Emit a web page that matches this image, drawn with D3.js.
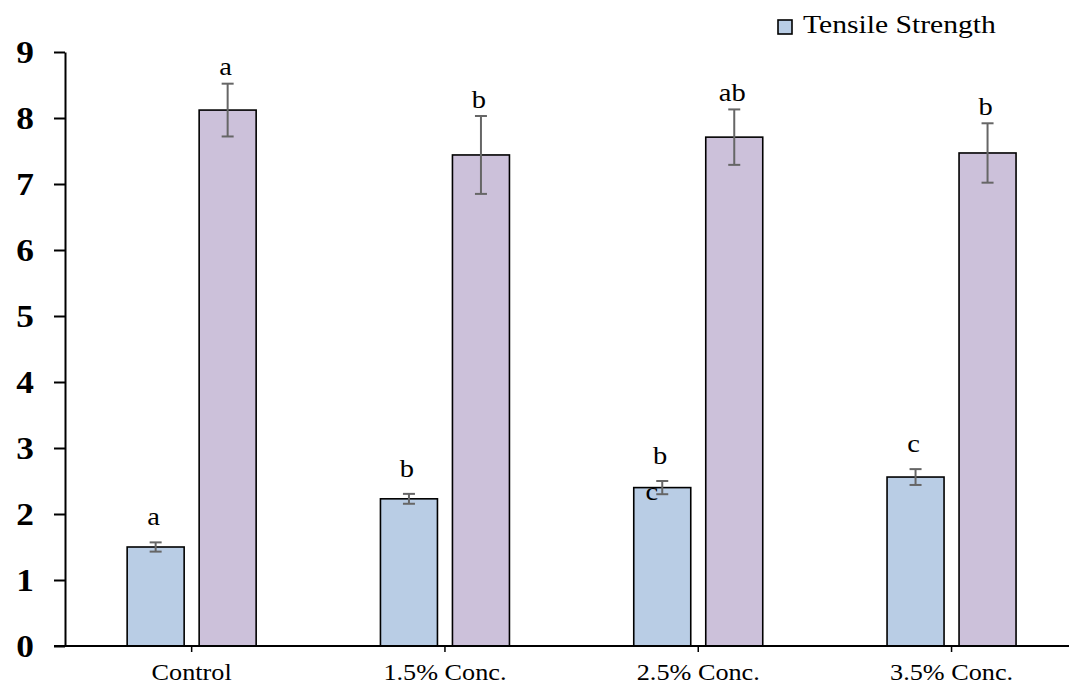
<!DOCTYPE html>
<html>
<head>
<meta charset="utf-8">
<script src="https://cdn.jsdelivr.net/npm/d3@7"></script>
<style>
  body { margin: 0; background: #fff; }
  svg { display: block; font-family: "Liberation Serif", "Times New Roman", serif; }
</style>
</head>
<body>
<div id="chart"></div>
<script>
// values
var categories = ["Control", "1.5% Conc.", "2.5% Conc.", "3.5% Conc."];
var seriesNames = ["Tensile Strength", "Elongation"];
var tensile = [1.50, 2.23, 2.40, 2.56];
var tensileErr = [0.07, 0.075, 0.10, 0.12];
var tensileLetters = ["a", "b", "b", "c"];
var second = [8.12, 7.44, 7.71, 7.47];
var secondErr = [0.40, 0.59, 0.42, 0.45];
var secondLetters = ["a", "b", "ab", "b"];
var yTicks = [0, 1, 2, 3, 4, 5, 6, 7, 8, 9];

var width = 1069, height = 684;
var blue = "#b9cde5", purple = "#ccc1da", errColor = "#666666";
var sx = 1.14; // text in the picture is a bit stretched horizontally

var svg = d3.select("#chart").append("svg")
    .attr("width", width)
    .attr("height", height);

var x0 = d3.scaleBand()
    .domain(categories)
    .range([65, 65 + 4 * 253.3])
    .padding(0);

var x1 = d3.scaleBand()
    .domain(seriesNames)
    .range([x0.bandwidth() / 2 - 64.5, x0.bandwidth() / 2 + 64.5])
    .paddingInner(15 / 72)
    .paddingOuter(0);

var y = d3.scaleLinear()
    .domain([0, 9])
    .range([646, 52]);

// build rows for drawing
var rows = [];
categories.forEach(function(c, i) {
    rows.push({cat: c, s: seriesNames[0], v: tensile[i], e: tensileErr[i], lab: tensileLetters[i], fill: blue, off: 17});
    rows.push({cat: c, s: seriesNames[1], v: second[i], e: secondErr[i], lab: secondLetters[i], fill: purple, off: 8.5});
});

function cx(d) { return x0(d.cat) + x1(d.s) + x1.bandwidth() / 2; }

// bars
svg.selectAll("rect.bar")
    .data(rows)
    .enter()
    .append("rect")
    .attr("class", "bar")
    .attr("x", function(d) { return x0(d.cat) + x1(d.s); })
    .attr("y", function(d) { return y(d.v); })
    .attr("width", x1.bandwidth())
    .attr("height", function(d) { return y(0) - y(d.v); })
    .style("fill", function(d) { return d.fill; })
    .style("stroke", "#000")
    .style("stroke-width", 1.6);

// error bars
var eb = svg.selectAll("g.err")
    .data(rows)
    .enter()
    .append("g")
    .attr("class", "err")
    .style("stroke", errColor)
    .style("stroke-width", 2);
eb.append("line")
    .attr("x1", cx).attr("x2", cx)
    .attr("y1", function(d) { return y(d.v + d.e); })
    .attr("y2", function(d) { return y(d.v - d.e); });
eb.append("line")
    .attr("x1", function(d) { return cx(d) - 6; }).attr("x2", function(d) { return cx(d) + 6; })
    .attr("y1", function(d) { return y(d.v + d.e); })
    .attr("y2", function(d) { return y(d.v + d.e); });
eb.append("line")
    .attr("x1", function(d) { return cx(d) - 6; }).attr("x2", function(d) { return cx(d) + 6; })
    .attr("y1", function(d) { return y(d.v - d.e); })
    .attr("y2", function(d) { return y(d.v - d.e); });

// significance letters
svg.selectAll("text.letter")
    .data(rows)
    .enter()
    .append("text")
    .attr("class", "letter")
    .attr("text-anchor", "middle")
    .attr("transform", function(d) {
        return "translate(" + (cx(d) - 2) + "," + (y(d.v + d.e) - d.off) + ") scale(" + sx + ",1)";
    })
    .style("font-size", "25px")
    .text(function(d) { return d.lab; });

// the stray "c" sitting on the 2.5% tensile bar
var stray = rows[4];
svg.append("text")
    .attr("text-anchor", "middle")
    .attr("transform", "translate(" + (cx(stray) - 10.5) + "," + (y(stray.v) + 12.5) + ") scale(" + sx + ",1)")
    .style("font-size", "25px")
    .text("c");

// y axis
var yAxis = svg.append("g")
    .attr("transform", "translate(65,0)")
    .call(d3.axisLeft(y).tickValues(yTicks).tickSize(11).tickSizeOuter(0).tickPadding(20).tickFormat(d3.format("d")));
yAxis.select(".domain").style("stroke", "#000").style("stroke-width", 2);
yAxis.selectAll(".tick line").style("stroke", "#000").style("stroke-width", 2);
yAxis.selectAll(".tick text")
    .attr("x", null)
    .attr("dy", null)
    .attr("transform", "translate(-31,10.5) scale(" + sx + ",1)")
    .style("font-family", "'Liberation Serif', 'Times New Roman', serif")
    .style("font-size", "31px")
    .style("font-weight", "bold")
    .style("fill", "#000");

// x baseline and category ticks
svg.append("line")
    .attr("x1", 54).attr("x2", width)
    .attr("y1", y(0)).attr("y2", y(0))
    .style("stroke", "#000")
    .style("stroke-width", 2);

var xAxis = svg.append("g")
    .attr("transform", "translate(0," + y(0) + ")")
    .call(d3.axisBottom(x0).tickSize(6).tickSizeOuter(0).tickPadding(0));
xAxis.select(".domain").remove();
xAxis.selectAll(".tick line").style("stroke", "#000").style("stroke-width", 1.5);
xAxis.selectAll(".tick text")
    .attr("y", null)
    .attr("dy", null)
    .attr("transform", "translate(0,34) scale(" + sx + ",1)")
    .style("font-family", "'Liberation Serif', 'Times New Roman', serif")
    .style("font-size", "23px")
    .style("fill", "#000");

// legend (only the first series is listed)
var legend = svg.append("g").attr("transform", "translate(778,20)");
legend.append("rect")
    .attr("width", 14).attr("height", 14)
    .style("fill", blue)
    .style("stroke", "#000")
    .style("stroke-width", 1.6);
legend.append("text")
    .attr("transform", "translate(25,13) scale(" + sx + ",1)")
    .style("font-size", "26px")
    .text(seriesNames[0]);
</script>
</body>
</html>
